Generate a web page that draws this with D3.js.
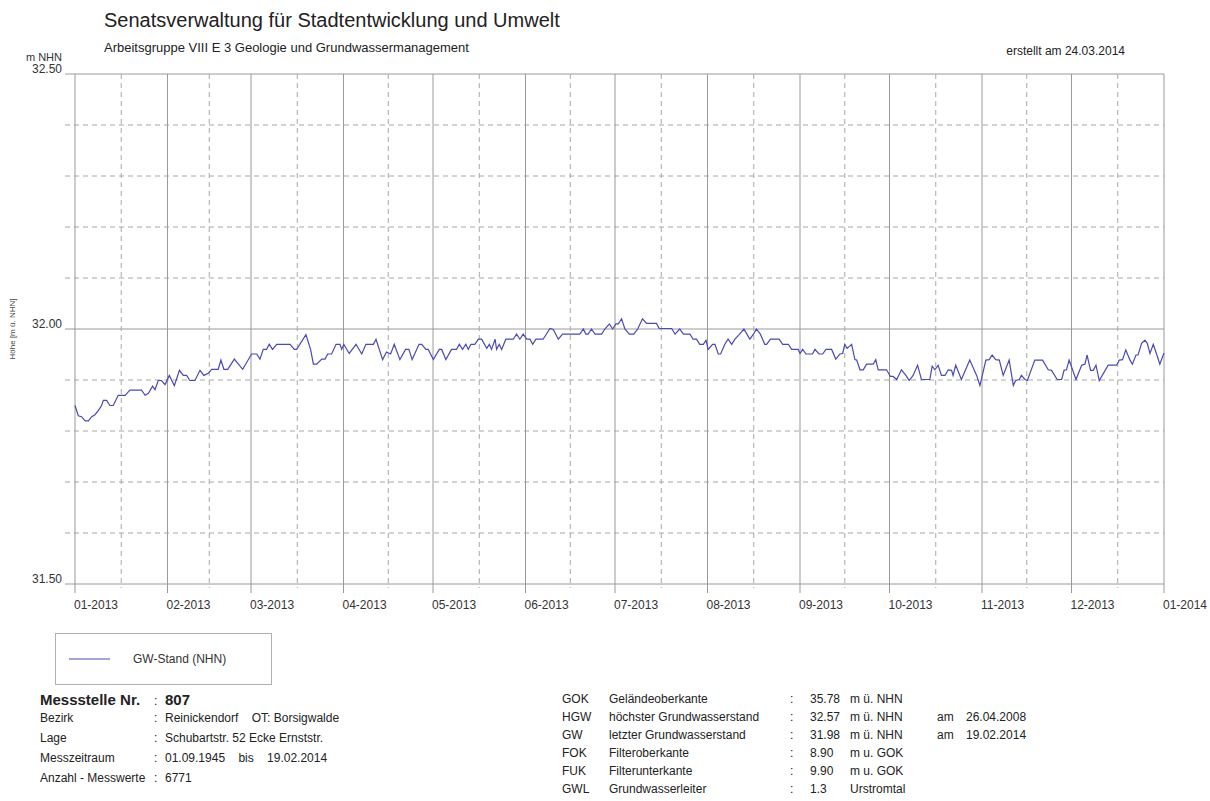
<!DOCTYPE html>
<html lang="de">
<head>
<meta charset="UTF-8">
<title>Grundwasserstand Messstelle 807</title>
<script src="https://d3js.org/d3.v7.min.js"></script>
<style>
  body { margin: 0; background: #fff; }
  svg { font-family: Arial, "Liberation Sans", sans-serif; }
  text { white-space: pre; }
</style>
</head>
<body>
<svg width="1210" height="801"></svg>
<script>
// Zeitraum der Ganglinie
const zeitraum = [Date.UTC(2013, 0, 1), Date.UTC(2014, 0, 1)];

// Y-Achse: beschriftete Werte und Hilfslinien (m NHN)
const yLabels = [31.5, 32.0, 32.5];
const yHilfslinien = [31.6, 31.7, 31.8, 31.9, 32.1, 32.2, 32.3, 32.4];

// GW-Stand (NHN): [Tag seit 01.01.2013, Wasserstand]
const messwerte = [
  [0,31.850],[1.1,31.830],[2.2,31.828],[3.4,31.820],[4.5,31.820],[5.6,31.828],[6.7,31.832],[7.8,31.840],
  [8.9,31.850],[9.5,31.860],[10.6,31.860],[11.7,31.850],[12.8,31.850],[14.5,31.870],[16.8,31.870],[18.4,31.880],
  [22.3,31.880],[23.5,31.870],[24.6,31.874],[26.0,31.888],[26.8,31.881],[27.9,31.899],[29.0,31.899],[30.2,31.891],
  [31.6,31.909],[33.3,31.889],[35.0,31.919],[36.3,31.909],[37.4,31.909],[38.5,31.899],[40.2,31.899],[41.9,31.919],
  [43.2,31.909],[44.7,31.913],[45.8,31.921],[48.0,31.921],[48.9,31.939],[49.9,31.921],[51.2,31.921],[53.4,31.941],
  [56.2,31.921],[59.2,31.951],[60.9,31.951],[62.0,31.941],[63.1,31.960],[64.2,31.960],[65.1,31.970],[66.2,31.960],
  [67.6,31.970],[72.1,31.970],[73.5,31.960],[74.3,31.960],[77.4,31.989],[79.0,31.959],[79.9,31.931],[81.0,31.931],
  [82.7,31.941],[83.8,31.941],[84.7,31.951],[86.0,31.951],[87.5,31.970],[88.8,31.970],[89.4,31.960],[90.1,31.970],
  [91.9,31.952],[94.2,31.970],[96.1,31.951],[97.5,31.970],[100.0,31.970],[100.9,31.980],[103.1,31.940],[104.4,31.955],
  [105.8,31.951],[107.0,31.970],[108.9,31.940],[110.8,31.960],[111.9,31.960],[113.0,31.940],[115.3,31.970],[116.2,31.970],
  [117.6,31.960],[118.4,31.960],[120.1,31.940],[122.1,31.960],[122.9,31.960],[124.3,31.940],[126.2,31.960],[127.9,31.960],
  [128.8,31.970],[129.9,31.960],[131.0,31.970],[131.8,31.960],[132.7,31.970],[134.0,31.970],[135.2,31.980],[136.3,31.980],
  [138.0,31.962],[138.9,31.970],[139.6,31.960],[140.8,31.980],[141.3,31.960],[142.2,31.970],[143.0,31.960],[144.4,31.980],
  [146.9,31.980],[148.0,31.990],[149.1,31.980],[150.2,31.990],[151.4,31.980],[152.5,31.980],[153.4,31.970],[154.5,31.980],
  [156.9,31.980],[159.2,32.001],[160.3,31.999],[162.0,31.980],[163.4,31.990],[169.2,31.990],[170.4,32.000],[171.2,31.990],
  [172.0,31.990],[173.1,32.000],[174.3,31.990],[176.5,31.990],[177.6,32.000],[179.1,32.010],[180.2,32.000],[181.3,32.010],
  [182.1,32.010],[183.2,32.020],[184.3,32.000],[185.8,31.990],[187.3,31.990],[188.6,32.000],[190.2,32.020],[191.6,32.011],
  [194.9,32.011],[195.8,32.001],[200.0,32.001],[201.1,31.990],[202.7,32.000],[203.9,31.990],[206.1,31.990],[207.2,31.980],
  [208.3,31.980],[209.4,31.970],[210.6,31.970],[211.5,31.978],[212.2,31.960],[213.7,31.970],[214.5,31.970],[215.6,31.951],
  [216.4,31.951],[217.8,31.970],[218.9,31.980],[220.1,31.970],[221.2,31.980],[222.6,31.989],[224.2,32.000],[225.3,31.989],
  [226.2,31.980],[227.5,31.991],[228.4,32.000],[229.6,31.991],[231.2,31.970],[231.8,31.970],[233.1,31.980],[236.0,31.980],
  [237.2,31.970],[239.1,31.970],[240.2,31.960],[242.4,31.960],[243.0,31.952],[243.9,31.960],[245.0,31.951],[247.2,31.951],
  [248.0,31.960],[249.4,31.951],[250.6,31.951],[251.7,31.960],[253.6,31.960],[255.0,31.941],[256.4,31.951],[257.3,31.952],
  [258.0,31.970],[258.8,31.962],[260.3,31.970],[261.4,31.940],[262.0,31.939],[263.1,31.920],[264.2,31.920],[265.3,31.931],
  [267.5,31.931],[268.4,31.940],[269.2,31.920],[272.0,31.920],[273.3,31.907],[274.2,31.907],[275.4,31.901],[277.0,31.920],
  [278.5,31.909],[279.6,31.899],[280.9,31.909],[282.4,31.929],[283.7,31.901],[286.5,31.901],[287.3,31.927],[288.2,31.920],
  [289.3,31.929],[290.4,31.909],[291.6,31.909],[292.7,31.920],[293.8,31.919],[294.3,31.909],[295.2,31.929],[297.1,31.901],
  [299.9,31.939],[302.2,31.909],[303.3,31.889],[305.3,31.939],[306.4,31.940],[307.4,31.949],[308.6,31.940],[309.8,31.939],
  [311.1,31.909],[313.1,31.939],[314.5,31.889],[315.3,31.899],[316.5,31.901],[317.2,31.909],[318.4,31.901],[319.2,31.899],
  [321.7,31.939],[324.3,31.939],[326.2,31.920],[327.3,31.919],[329.2,31.901],[330.7,31.901],[331.5,31.919],[332.3,31.920],
  [333.2,31.939],[335.5,31.901],[337.4,31.929],[338.5,31.931],[339.2,31.949],[340.4,31.919],[341.3,31.919],[342.2,31.929],
  [343.3,31.899],[346.3,31.929],[349.1,31.929],[350.0,31.939],[351.1,31.940],[352.2,31.959],[353.6,31.939],[354.4,31.931],
  [355.6,31.949],[356.3,31.949],[357.5,31.972],[358.6,31.978],[359.4,31.972],[360.3,31.952],[361.4,31.970],[362.5,31.951],
  [363.6,31.931],[365.0,31.953]
];

// Stammdaten unter der Grafik
const infoLinks = [
  ["Bezirk", "Reinickendorf    OT: Borsigwalde"],
  ["Lage", "Schubartstr. 52 Ecke Ernststr."],
  ["Messzeitraum", "01.09.1945    bis    19.02.2014"],
  ["Anzahl - Messwerte", "6771"]
];
const infoRechts = [
  ["GOK", "Geländeoberkante", "35.78", "m ü. NHN", "", ""],
  ["HGW", "höchster Grundwasserstand", "32.57", "m ü. NHN", "am", "26.04.2008"],
  ["GW", "letzter Grundwasserstand", "31.98", "m ü. NHN", "am", "19.02.2014"],
  ["FOK", "Filteroberkante", "8.90", "m u. GOK", "", ""],
  ["FUK", "Filterunterkante", "9.90", "m u. GOK", "", ""],
  ["GWL", "Grundwasserleiter", "1.3", "Urstromtal", "", ""]
];

const svg = d3.select("svg");
const margin = {top: 74, left: 75, right: 46, bottom: 217};
const width = 1210 - margin.left - margin.right;
const height = 801 - margin.top - margin.bottom;
const linie = "#4a4ab4";
const grau = "#9a9a9a";

const x = d3.scaleUtc().domain(zeitraum).range([0, width]);
const y = d3.scaleLinear().domain([31.5, 32.5]).range([height, 0]);

const g = svg.append("g").attr("transform", `translate(${margin.left},${margin.top})`);

const monate = d3.utcMonth.range(zeitraum[0], d3.utcMonth.offset(zeitraum[1], 1));
const monatsMitten = monate.slice(0, -1).map((m, i) => new Date((+m + +monate[i + 1]) / 2));

// horizontale Hilfslinien
g.selectAll(".hgrid").data(yHilfslinien).enter().append("line")
  .attr("x1", -10).attr("x2", width)
  .attr("y1", d => y(d)).attr("y2", d => y(d))
  .attr("stroke", "#a8a8a8").attr("stroke-dasharray", "5,4");
g.selectAll(".hsolid").data(yLabels).enter().append("line")
  .attr("x1", -10).attr("x2", width)
  .attr("y1", d => y(d)).attr("y2", d => y(d))
  .attr("stroke", grau);

// vertikale Hilfslinien
g.selectAll(".vmid").data(monatsMitten).enter().append("line")
  .attr("x1", d => x(d)).attr("x2", d => x(d))
  .attr("y1", 0).attr("y2", height + 4)
  .attr("stroke", "#a8a8a8").attr("stroke-dasharray", "5,4");
g.selectAll(".vmon").data(monate).enter().append("line")
  .attr("x1", d => x(d)).attr("x2", d => x(d))
  .attr("y1", 0).attr("y2", height + 9)
  .attr("stroke", grau);

// Y-Beschriftung
g.selectAll(".ylab").data(yLabels).enter().append("text")
  .attr("x", -13).attr("y", d => y(d) - 1)
  .attr("text-anchor", "end").attr("font-size", 12).attr("fill", "#333")
  .text(d => d.toFixed(2));
g.append("text").attr("x", -13).attr("y", -13)
  .attr("text-anchor", "end").attr("font-size", 11).attr("fill", "#333")
  .text("m NHN");
svg.append("text")
  .attr("transform", `translate(15,${y(32) + margin.top}) rotate(-90)`)
  .attr("text-anchor", "middle").attr("font-size", 8).attr("fill", "#444")
  .text("Höhe [m ü. NHN]");

// X-Beschriftung
g.selectAll(".xlab").data(monate).enter().append("text")
  .attr("x", d => x(d) - 1).attr("y", height + 25)
  .attr("font-size", 12).attr("fill", "#333")
  .text(d3.utcFormat("%m-%Y"));

// Ganglinie
const start = zeitraum[0];
const line = d3.line()
  .x(d => x(new Date(start + d[0] * 864e5)))
  .y(d => y(d[1]));
g.append("path").datum(messwerte)
  .attr("fill", "none").attr("stroke", linie).attr("stroke-width", 1.2)
  .attr("d", line);

// Kopf
svg.append("text").attr("x", 104).attr("y", 27)
  .attr("font-size", 20).attr("fill", "#222")
  .text("Senatsverwaltung für Stadtentwicklung und Umwelt");
svg.append("text").attr("x", 104).attr("y", 52)
  .attr("font-size", 13).attr("fill", "#222")
  .text("Arbeitsgruppe VIII E 3 Geologie und Grundwassermanagement");
svg.append("text").attr("x", 1125).attr("y", 55)
  .attr("text-anchor", "end").attr("font-size", 12).attr("fill", "#222")
  .text("erstellt am 24.03.2014");

// Legende
svg.append("rect").attr("x", 55.5).attr("y", 633.5).attr("width", 216).attr("height", 51)
  .attr("fill", "none").attr("stroke", "#b0b0b0");
svg.append("line").attr("x1", 69).attr("x2", 110).attr("y1", 659).attr("y2", 659)
  .attr("stroke", linie).attr("stroke-width", 1.2);
svg.append("text").attr("x", 133).attr("y", 663)
  .attr("font-size", 12).attr("fill", "#333").text("GW-Stand (NHN)");

// Stammdaten links
const info = svg.append("g").attr("fill", "#222");
info.append("text").attr("x", 40).attr("y", 705)
  .attr("font-size", 15).attr("font-weight", "bold").text("Messstelle Nr.");
info.append("text").attr("x", 154).attr("y", 705).attr("font-size", 12).text(":");
info.append("text").attr("x", 165).attr("y", 705)
  .attr("font-size", 15).attr("font-weight", "bold").text("807");
infoLinks.forEach((r, i) => {
  const yy = 722 + i * 20;
  info.append("text").attr("x", 40).attr("y", yy).attr("font-size", 12).text(r[0]);
  info.append("text").attr("x", 154).attr("y", yy).attr("font-size", 12).text(":");
  info.append("text").attr("x", 165).attr("y", yy).attr("font-size", 12).text(r[1]);
});

// Stammdaten rechts
const spalten = [562, 609, 810, 850, 937, 966];
infoRechts.forEach((r, i) => {
  const yy = 703 + i * 18;
  r.forEach((t, j) => {
    info.append("text").attr("x", spalten[j]).attr("y", yy).attr("font-size", 12).text(t);
  });
  info.append("text").attr("x", 790).attr("y", yy).attr("font-size", 12).text(":");
});
</script>
</body>
</html>
